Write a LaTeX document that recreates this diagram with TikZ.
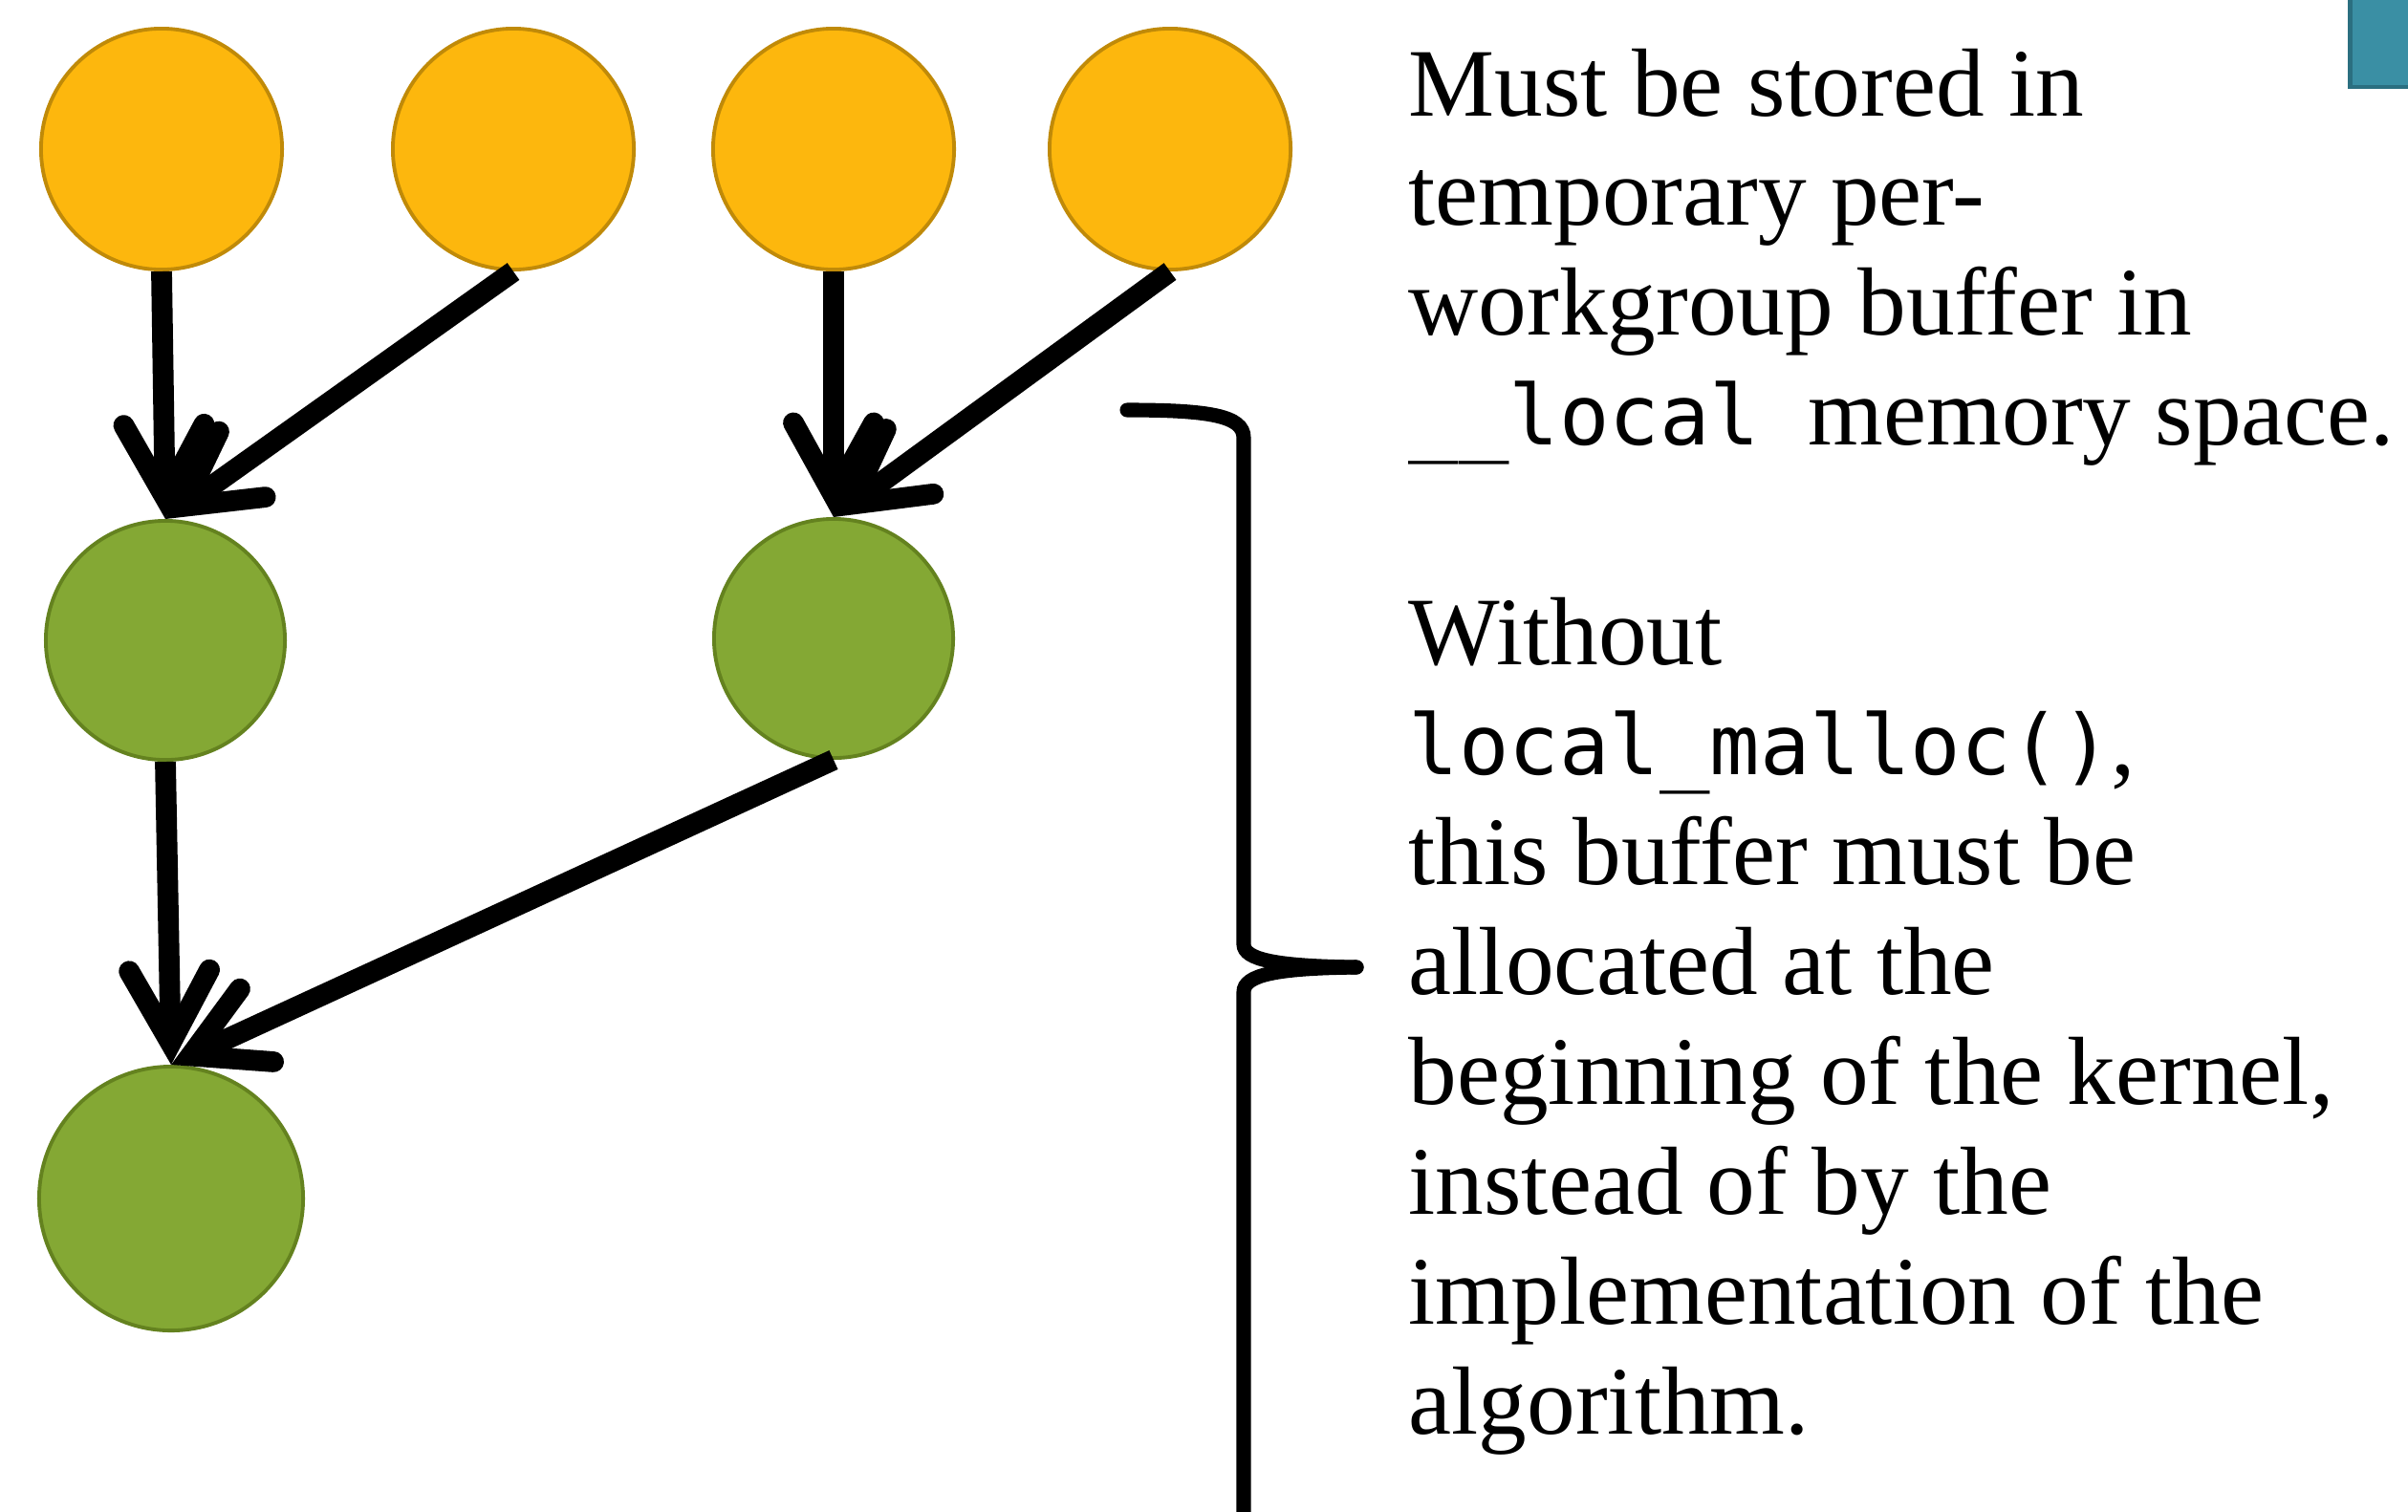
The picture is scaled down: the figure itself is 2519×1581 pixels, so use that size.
\documentclass[tikz,border=0pt]{standalone}
\usepackage{fontspec}
\setmainfont{Liberation Serif}
\newfontfamily\codefont{DejaVu Sans Mono}
\usetikzlibrary{arrows.meta}

\definecolor{leaffill}{RGB}{253,183,13}
\definecolor{leafborder}{RGB}{192,138,8}
\definecolor{sumfill}{RGB}{132,168,52}
\definecolor{sumborder}{RGB}{100,130,31}
\definecolor{tabfill}{RGB}{58,143,164}
\definecolor{tabborder}{RGB}{43,111,128}

\newcommand{\code}[1]{{\codefont\fontsize{24.8pt}{32.7pt}\selectfont #1}}

\tikzset{
    leaf/.style={circle, draw=leafborder, fill=leaffill, line width=1.1pt, minimum size=2.52cm, inner sep=0pt},
    partial/.style={circle, draw=sumborder, fill=sumfill, line width=1.1pt, minimum size=2.5cm, inner sep=0pt},
    flow/.style={line width=6.2pt, -{Straight Barb[length=0.76cm, width=0.84cm, line cap=round]}},
    brace/.style={line width=4.3pt, line cap=round}
}

\begin{document}
\begin{tikzpicture}[x=0.01cm, y=-0.01cm]
    \useasboundingbox (0,0) rectangle (2519,1581);
    \clip (0,0) rectangle (2519,1581);

    % Corner tab
    \draw[tabborder, fill=tabfill, line width=1.4pt] (2458,-20) rectangle (2600,91);

    % Input values
    \node[leaf] (in1) at (169,156) {};
    \node[leaf] (in2) at (537,156) {};
    \node[leaf] (in3) at (872,156) {};
    \node[leaf] (in4) at (1224,156) {};

    % Partial results
    \node[partial] (mid1) at (173,670) {};
    \node[partial] (mid2) at (872,668) {};
    \node[partial, minimum size=2.76cm] (total) at (179,1254) {};

    % Reduction steps
    \draw[flow] (in1.south) -- (mid1.north);
    \draw[flow] (in2.south) -- (mid1.north);
    \draw[flow] (in3.south) -- (mid2.north);
    \draw[flow] (in4.south) -- (mid2.north);
    \draw[flow] (mid1.south) -- (total.north);
    \draw[flow] (mid2.south) -- (total.north);

    % Brace
    \coordinate (bracetop) at (1179,429);
    \coordinate (bracetip) at (1419,1012);
    \draw[brace] (bracetop) .. controls (1265,429) and (1301,435) .. (1301,458)
        -- (1301,988) .. controls (1301,1004) and (1335,1011) .. (bracetip);
    \draw[brace] (bracetip) .. controls (1335,1013) and (1301,1020) .. (1301,1038) -- (1301,1620);

    % Text
    \node[anchor=north west, align=left, inner sep=0pt,
          font=\fontsize{28.8pt}{32.7pt}\selectfont] (note) at (1473,50) {
        Must be stored in\\
        temporary per-\\
        workgroup buffer in\\
        \code{\_\_local}\ \ memory space.\\[32.7pt]
        Without\\
        \code{local\_malloc()},\\
        this buffer must be\\
        allocated at the\\
        beginning of the kernel,\\
        instead of by the\\
        implementation of the\\
        algorithm.};
\end{tikzpicture}
\end{document}
